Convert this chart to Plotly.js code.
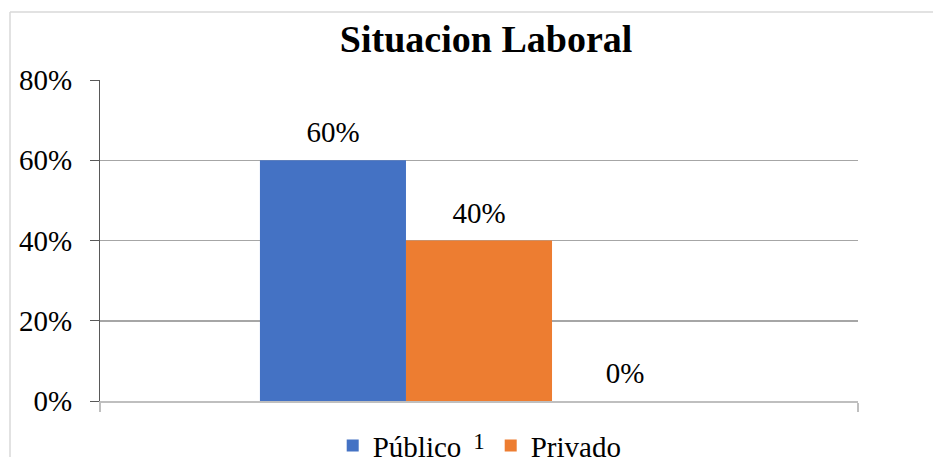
<!DOCTYPE html>
<html>
<head>
<meta charset="utf-8">
<script src="https://cdn.plot.ly/plotly-3.0.1.min.js"></script>
<style>html,body{margin:0;padding:0;background:#fff;}</style>
</head>
<body>
<div id="chart" style="width:933px;height:457px;"></div>
<script>
const categories = ['1'];
const seriesNames = ['Público', 'Privado', 'Otro'];
const publico = [0.60];
const privado = [0.40];
const otro = [0.00];
const yTicks = [0, 0.2, 0.4, 0.6, 0.8];
const yTickLabels = ['0%', '20%', '40%', '60%', '80%'];

const FONT = "'Liberation Serif', 'Times New Roman', serif";
const colors = ['#4472C4', '#ED7D31', '#A5A5A5'];
const seriesValues = [publico, privado, otro];

// a tall invisible spacer on each side lifts the label a little above the bar
const PAD = '<span style="font-size:71px">&nbsp;</span>';

const traces = seriesValues.map((vals, i) => ({
  type: 'bar',
  name: seriesNames[i],
  x: categories,
  y: vals,
  marker: {color: colors[i], line: {width: 0}},
  text: vals.map(v => PAD + Math.round(v * 100) + '%' + PAD),
  textposition: 'outside',
  constraintext: 'none',
  textfont: {family: FONT, size: 29, color: '#000'},
  cliponaxis: false,
  showlegend: i < 2,
  hoverinfo: 'none'
}));

const layout = {
  width: 933,
  height: 457,
  paper_bgcolor: '#fff',
  plot_bgcolor: '#fff',
  margin: {l: 100, r: 75, t: 80, b: 56, autoexpand: false},
  font: {family: FONT, color: '#000', size: 29},
  title: {
    text: '<b>Situacion Laboral</b>',
    font: {family: FONT, size: 38, color: '#000'},
    x: 0.521, xanchor: 'center',
    y: 1 - 39 / 457, yanchor: 'middle'
  },
  barmode: 'group',
  bargap: 0.422,
  bargroupgap: 0,
  xaxis: {
    type: 'category',
    showgrid: false,
    showline: true,
    linecolor: '#bfbfbf',
    linewidth: 1.5,
    ticks: 'outside',
    tickson: 'boundaries',
    ticklen: 9,
    tickcolor: '#bfbfbf',
    tickwidth: 1.5,
    ticklabelstandoff: 19,
    tickfont: {family: FONT, size: 23, color: '#000'},
    fixedrange: true
  },
  yaxis: {
    range: [0, 0.8],
    tickvals: yTicks,
    ticktext: yTickLabels,
    showgrid: true,
    gridcolor: '#a6a6a6',
    gridwidth: 1.5,
    zeroline: false,
    showline: true,
    linecolor: '#595959',
    linewidth: 1,
    ticks: 'outside',
    ticklen: 9,
    tickcolor: '#595959',
    tickwidth: 1,
    ticklabelstandoff: 12,
    tickfont: {family: FONT, size: 29, color: '#000'},
    fixedrange: true
  },
  legend: {
    orientation: 'h',
    x: 0.307, xanchor: 'left',
    y: -0.06, yanchor: 'top',
    entrywidth: 113,
    entrywidthmode: 'pixels',
    font: {family: FONT, size: 29, color: '#000'},
    bgcolor: 'rgba(0,0,0,0)',
    traceorder: 'normal'
  },
  shapes: [
    {type: 'line', xref: 'paper', yref: 'paper', x0: -90/758, x1: -90/758, y0: 389/321, y1: -0.3, line: {color: '#d9d9d9', width: 1.5}},
    {type: 'line', xref: 'paper', yref: 'paper', x0: -90/758, x1: 1.2, y0: 389/321, y1: 389/321, line: {color: '#d9d9d9', width: 1.5}}
  ]
};

Plotly.newPlot('chart', traces, layout, {staticPlot: true});
</script>
</body>
</html>
